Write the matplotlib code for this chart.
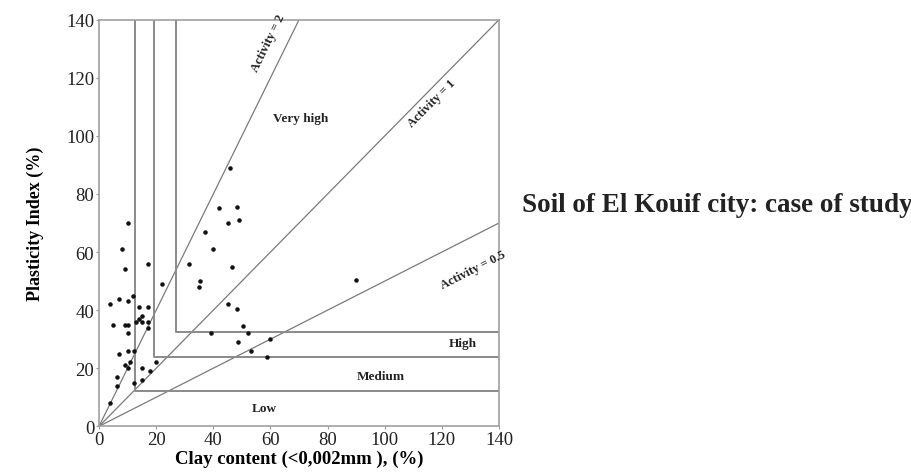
import matplotlib
matplotlib.use("Agg")
import matplotlib.pyplot as plt

# measured samples: clay fraction (%) and plasticity index (%)
clay = [10, 8, 9, 17, 22, 12, 7, 10, 4, 14, 17, 15, 14, 13, 15, 17, 17, 5, 9, 10,
        10, 7, 10, 12.4, 11, 9, 10.3, 15, 20, 18, 6.3, 6.3, 12.4, 15, 4,
        46, 42, 48.3, 49, 45.2, 37, 40, 31.6, 46.6, 35.2, 35, 45.2, 48.4, 50.5,
        39.2, 52.2, 48.8, 59.9, 53.3, 58.8, 90]
pi = [70, 61, 54, 56, 49, 45, 44, 43, 42, 41, 41, 38, 37, 36, 36, 36, 34, 35, 35, 35,
      32, 25, 26, 26, 22, 21, 20, 20, 22, 19, 17, 14, 15, 16, 8,
      89, 75, 75.5, 71, 70, 67, 61, 56, 55, 50, 48, 42, 40.5, 34.5,
      32, 32, 29, 30, 26, 24, 50.5]

# swelling-potential class corners (clay %, PI %)
class_names = ["Low", "Medium", "High", "Very high"]
corner_clay = [12.7, 19.3, 27]
corner_pi = [12, 24, 32.5]
activities = [2, 1, 0.5]

SERIF = "Liberation Serif"
LINE = "#7a7a7a"

fig = plt.figure(figsize=(9.12, 4.77), dpi=100)
ax = fig.add_axes([0.1086, 0.1042, 0.4386, 0.8524])
ax.set_xlim(0, 140); ax.set_ylim(0, 140)

for a in activities:
    x_end = min(140, 140 / a)
    ax.plot([0, x_end], [0, a * x_end], color=LINE, lw=0.9, zorder=2)

for cx, cy in zip(corner_clay, corner_pi):
    ax.plot([cx, cx, 140], [140, cy, cy], color="#8a8a8a", lw=1.4, zorder=2)

ax.scatter(clay, pi, s=5, color="#111111", zorder=3)

bold = dict(family=SERIF, fontweight="bold", fontsize=9.5, color="#222222")
ax.text(58, 6.2, class_names[0], ha="center", va="center", **bold)
ax.text(98.5, 17.4, class_names[1], ha="center", va="center", **bold)
ax.text(127.3, 28.7, class_names[2], ha="center", va="center", **bold)
ax.text(70.7, 106, class_names[3], ha="center", va="center", **bold)

act = dict(bold, fontsize=9)
ax.text(59.3, 132, "Activity = 2", rotation=64, ha="center", va="center", **act)
ax.text(116.6, 111.3, "Activity = 1", rotation=45, ha="center", va="center", **act)
ax.text(131, 54, "Activity = 0.5", rotation=27, ha="center", va="center", **act)

ax.set_xticks(range(0, 141, 20)); ax.set_yticks(range(0, 141, 20))
ax.tick_params(length=2.5, width=0.8, color="#999999", labelsize=13.5, pad=1)
for lab in ax.get_xticklabels() + ax.get_yticklabels():
    lab.set_family(SERIF); lab.set_color("#222222")
for sp in ax.spines.values():
    sp.set_color("#a0a0a0"); sp.set_linewidth(1.2)

ax.set_xlabel("Clay content (<0,002mm ), (%)", family=SERIF, fontweight="bold",
              fontsize=13.5, labelpad=1)
ax.set_ylabel("Plasticity Index (%)", family=SERIF, fontweight="bold",
              fontsize=13, labelpad=16)

fig.text(0.5725, 0.57, "Soil of El Kouif city: case of study", family=SERIF,
         fontweight="bold", fontsize=19.5, ha="left", va="center", color="#222222")

fig.savefig("out.png", dpi=100)
